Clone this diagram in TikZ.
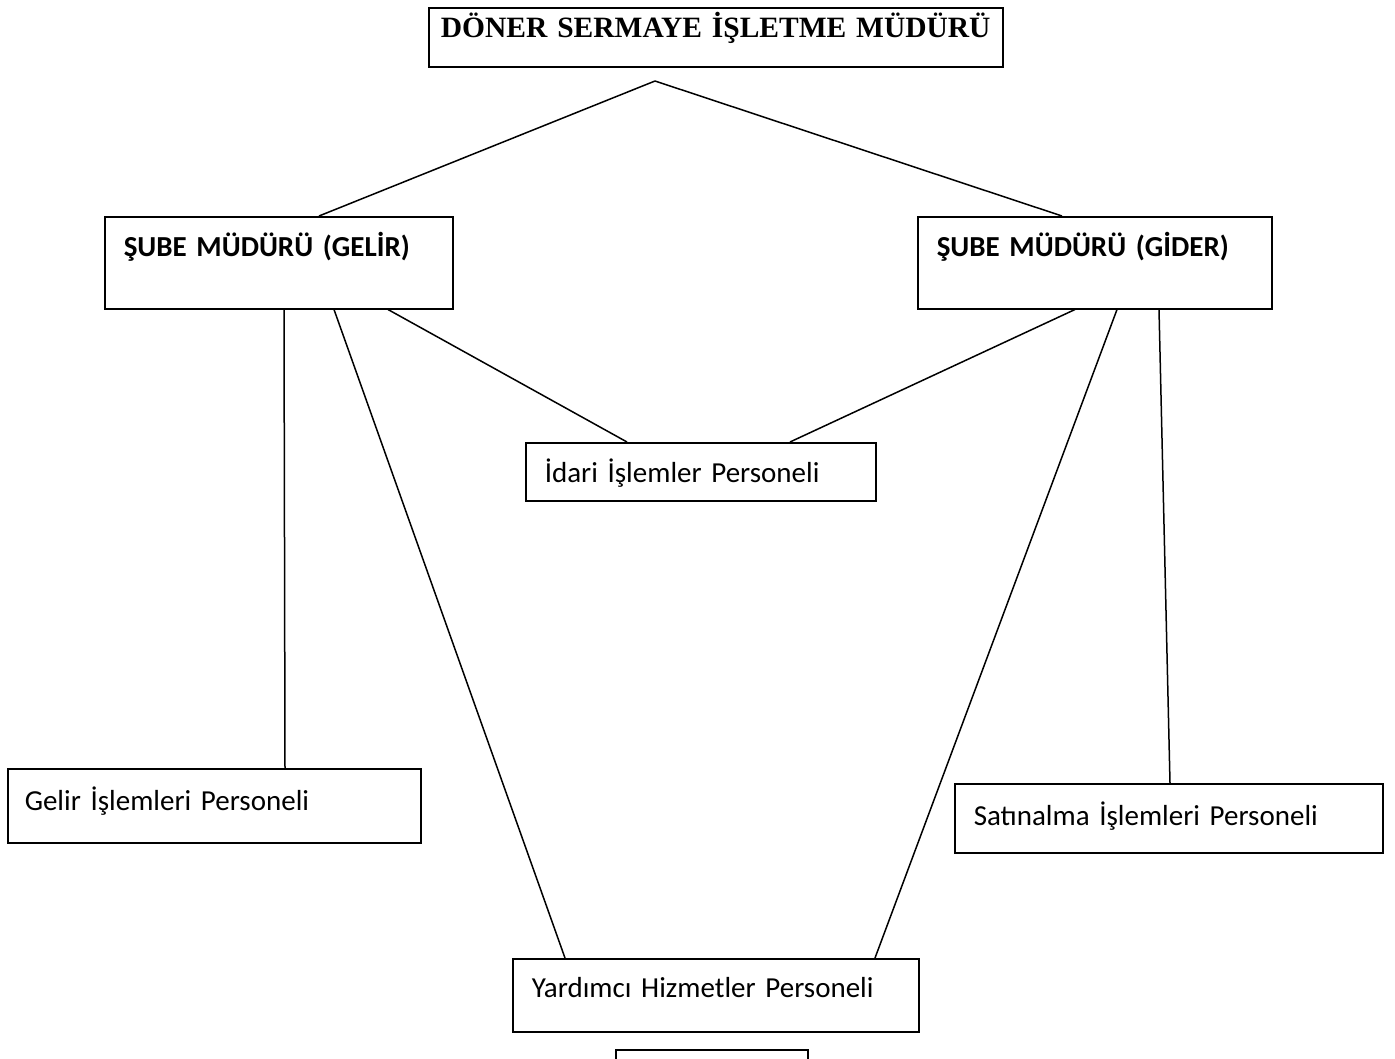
\documentclass[tikz,border=0pt]{standalone}
\usepackage{fontspec}
\setmainfont{Carlito}
\newfontfamily\titlefont{Liberation Serif}
\usepackage{tikz}

\begin{document}
\begin{tikzpicture}[x=1pt, y=-1pt, line width=1.5pt,
        box/.style={draw=black, rectangle, anchor=north west, align=left, inner xsep=19pt, inner ysep=0pt, text depth=15pt, font=\fontsize{29}{33}\selectfont}]
        \useasboundingbox (0,0) rectangle (1395,1058);
        % Nodes
        \node[box, align=center, inner xsep=0pt, text width=574pt, minimum height=59pt, text depth=24pt, font=\titlefont\bfseries\fontsize{29.5}{33}\selectfont] (mudur) at (428,7) {DÖNER SERMAYE İŞLETME MÜDÜRÜ};
        \node[box, text width=310pt, minimum height=92pt, text depth=36pt, font=\bfseries\fontsize{29}{33}\selectfont] (gelir) at (104,216) {ŞUBE MÜDÜRÜ (GELİR)};
        \node[box, text width=316pt, minimum height=92pt, text depth=36pt, font=\bfseries\fontsize{29}{33}\selectfont] (gider) at (917,216) {ŞUBE MÜDÜRÜ (GİDER)};
        \node[box, text width=312pt, minimum height=58pt, text depth=3pt] (idari) at (525,442) {İdari İşlemler Personeli};
        \node[box, text width=379pt, minimum height=74pt, inner xsep=17pt] (gelirper) at (7,768) {Gelir İşlemleri Personeli};
        \node[box, text width=390pt, minimum height=69pt, text depth=10pt] (satin) at (954,783) {Satınalma İşlemleri Personeli};
        \node[box, text width=368pt, minimum height=73pt] (yardimci) at (512,958) {Yardımcı Hizmetler Personeli};
        \node[box, text width=154pt, minimum height=40pt] (alt) at (615,1049) {};
        \coordinate (tepe) at (655,81);

        % Edges
        \draw (tepe) -- ([xshift=215pt]gelir.north west);
        \draw (tepe) -- ([xshift=145pt]gider.north west);
        \draw ([xshift=180pt]gelir.south west) -- ([xshift=278pt]gelirper.north west);
        \draw ([xshift=230pt]gelir.south west) -- ([xshift=53pt]yardimci.north west);
        \draw ([xshift=284pt]gelir.south west) -- ([xshift=102pt]idari.north west);
        \draw ([xshift=158pt]gider.south west) -- ([xshift=265pt]idari.north west);
        \draw ([xshift=200pt]gider.south west) -- ([xshift=363pt]yardimci.north west);
        \draw ([xshift=242pt]gider.south west) -- ([xshift=216pt]satin.north west);
    \end{tikzpicture}
\end{document}
